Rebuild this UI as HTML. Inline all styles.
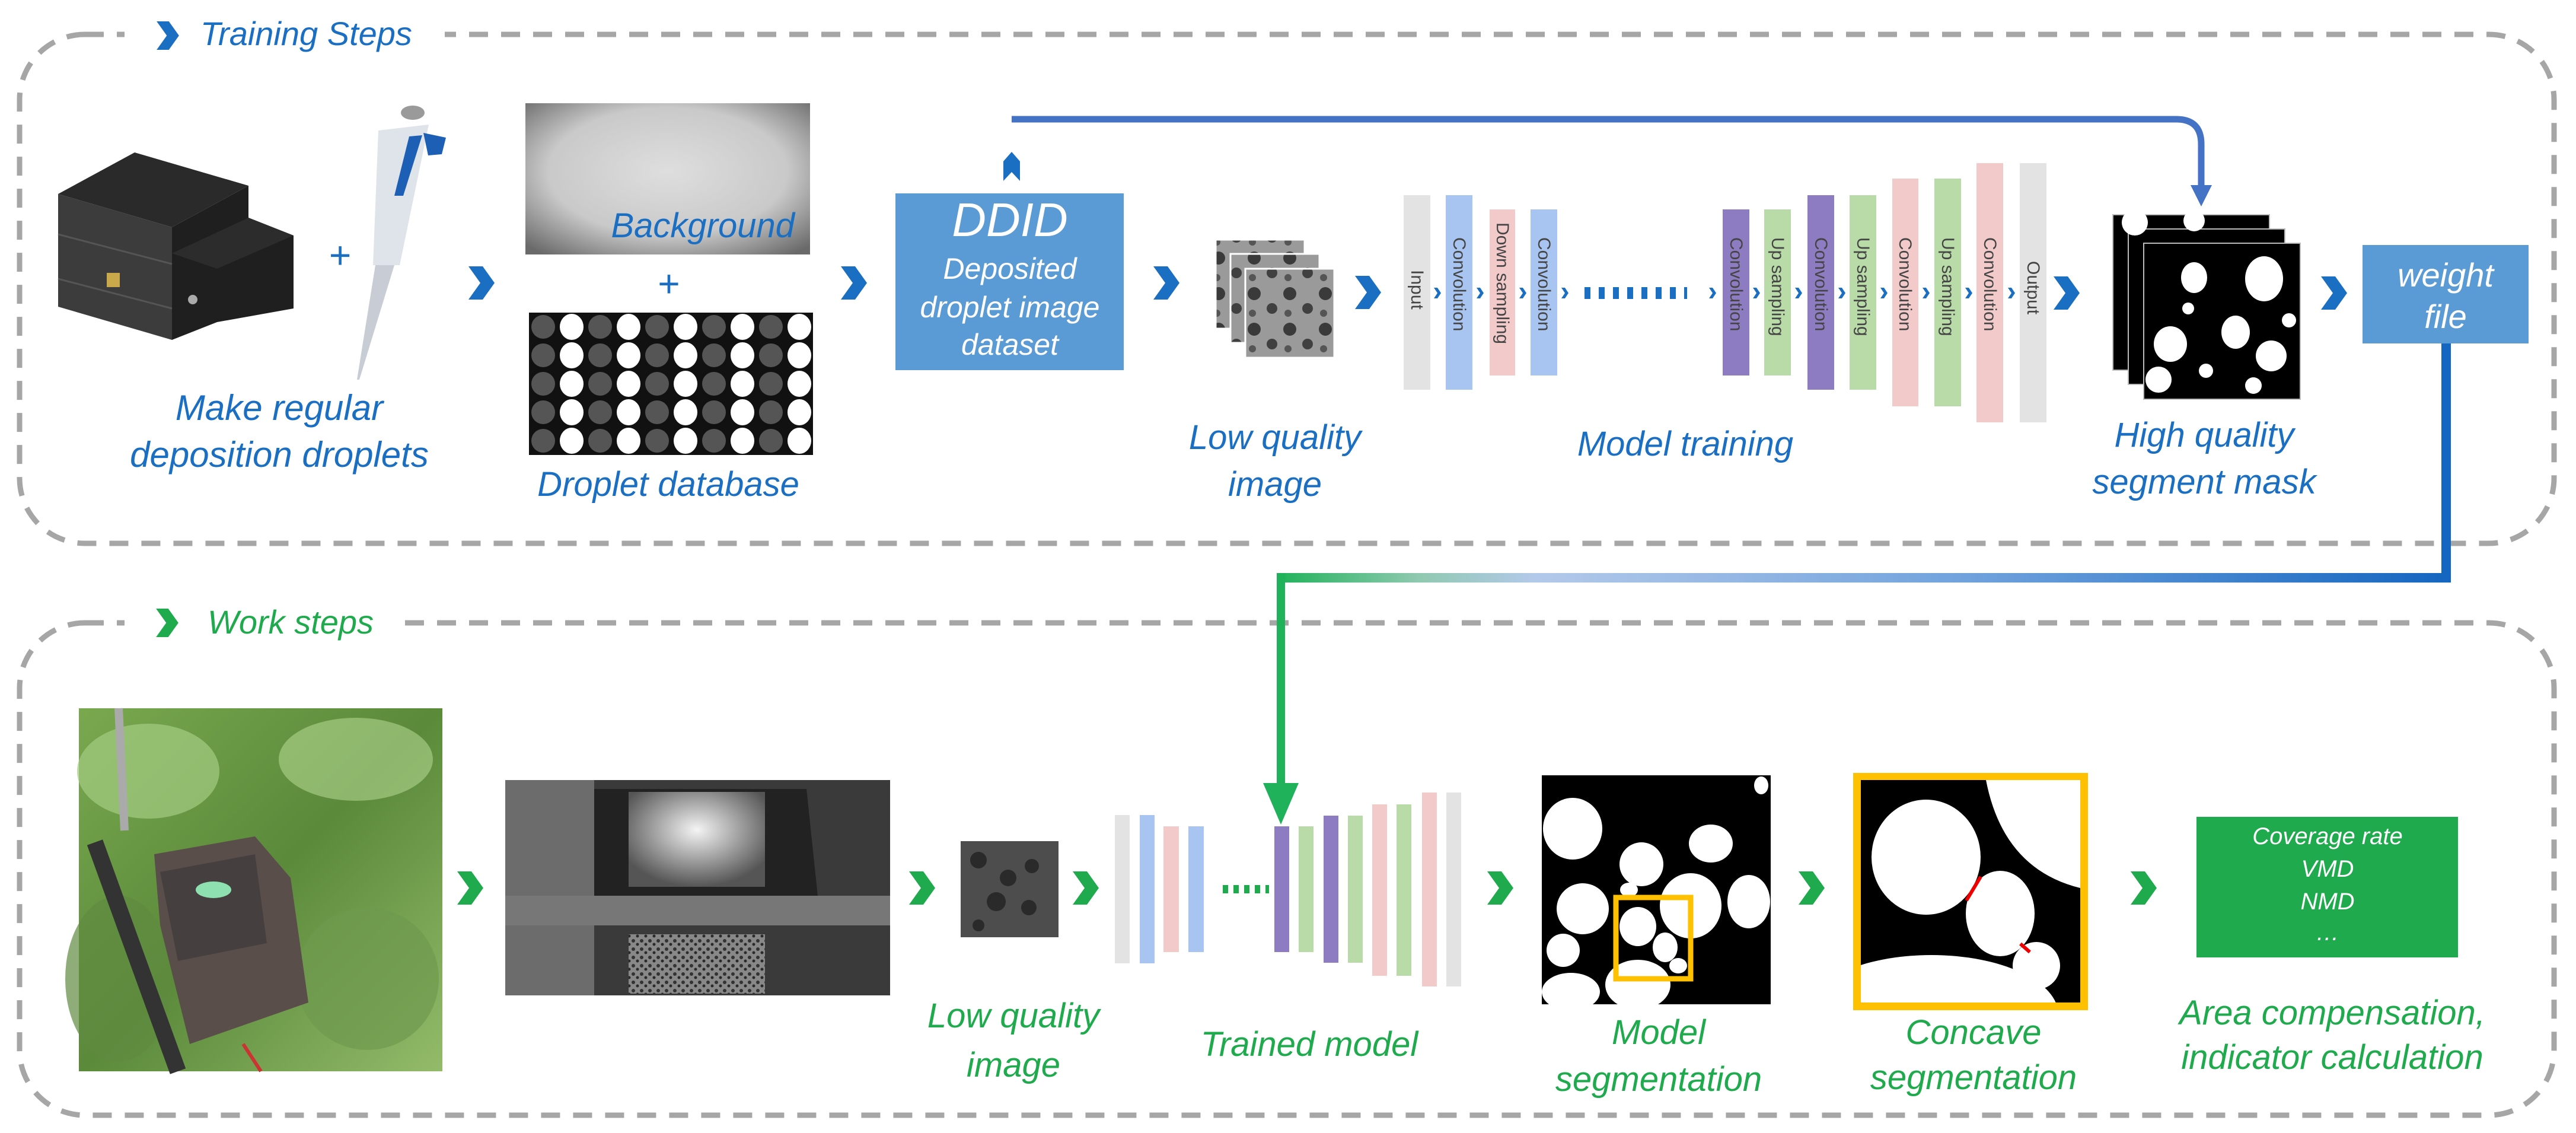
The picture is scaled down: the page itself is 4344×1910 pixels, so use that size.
<!DOCTYPE html>
<html><head><meta charset="utf-8"><style>
html,body{margin:0;padding:0;background:#fff;}
svg{display:block;}
.t{font-family:"Liberation Sans",sans-serif;font-style:italic;}
.b{fill:#1b6fc2;}
.g{fill:#1faa4d;}
.bar{font-family:"Liberation Sans",sans-serif;font-size:30px;fill:#444;}
</style></head><body>
<svg width="4344" height="1910" viewBox="0 0 4344 1910" xmlns="http://www.w3.org/2000/svg">
<defs>
<radialGradient id="bg" cx="0.5" cy="0.45" r="0.7"><stop offset="0" stop-color="#dedede"/><stop offset="0.6" stop-color="#c9c9c9"/><stop offset="1" stop-color="#6a6a6a"/></radialGradient>
<linearGradient id="hz" x1="2155" y1="0" x2="4125" y2="0" gradientUnits="userSpaceOnUse"><stop offset="0" stop-color="#20b25a"/><stop offset="0.12" stop-color="#8fc9b0"/><stop offset="0.22" stop-color="#b3c9ea"/><stop offset="0.6" stop-color="#6ea1dc"/><stop offset="1" stop-color="#1566c0"/></linearGradient>
<linearGradient id="leaf" x1="0" y1="0" x2="1" y2="1"><stop offset="0" stop-color="#79a84f"/><stop offset="0.5" stop-color="#5a8a3a"/><stop offset="1" stop-color="#93bb6a"/></linearGradient>
<radialGradient id="sq" cx="0.5" cy="0.4" r="0.6"><stop offset="0" stop-color="#f4f4f4"/><stop offset="1" stop-color="#555"/></radialGradient>
<symbol id="chev" viewBox="0 0 44 56"><path d="M0,0 L24,0 L44,28 L24,56 L0,56 L20,28 Z"/></symbol>
<symbol id="sch" viewBox="0 0 12 18"><path d="M0,0 L6,0 L12,9 L6,18 L0,18 L6,9 Z"/></symbol>
<pattern id="tex" width="14" height="14" patternUnits="userSpaceOnUse"><rect width="14" height="14" fill="#888"/><circle cx="4" cy="4" r="3" fill="#333"/><circle cx="11" cy="10" r="2.5" fill="#2a2a2a"/></pattern>
<pattern id="tex2" width="60" height="60" patternUnits="userSpaceOnUse"><rect width="60" height="60" fill="#9a9a9a"/><circle cx="15" cy="15" r="11" fill="#3a3a3a"/><circle cx="45" cy="40" r="9" fill="#404040"/><circle cx="12" cy="48" r="6" fill="#555"/></pattern>
</defs>

<rect x="33" y="58" width="4274" height="858" rx="110" fill="none" stroke="#a6a6a6" stroke-width="9" stroke-dasharray="32 22"/>
<rect x="210" y="30" width="540" height="60" fill="#fff"/>
<rect x="33" y="1050" width="4274" height="830" rx="110" fill="none" stroke="#a6a6a6" stroke-width="9" stroke-dasharray="32 22"/>
<rect x="210" y="1020" width="460" height="60" fill="#fff"/>

<use href="#chev" x="263" y="36" width="40" height="48" fill="#1b6fc2"/>
<text x="338" y="76" class="t b" font-size="56">Training Steps</text>
<use href="#chev" x="262" y="1026" width="40" height="48" fill="#1faa4d"/>
<text x="350" y="1068" class="t g" font-size="56">Work steps</text>

<polygon points="98,327 290,383 290,573 98,517" fill="#3c3c3c"/>
<polygon points="98,327 227,257 419,313 290,383" fill="#2a2a2a"/>
<polygon points="290,383 419,313 419,367 495,397 495,520 366,543 290,573" fill="#1f1f1f"/>
<polygon points="290,427 419,367 495,397 366,453" fill="#2c2c2c"/>
<line x1="98" y1="395" x2="290" y2="445" stroke="#555" stroke-width="3"/>
<line x1="98" y1="470" x2="290" y2="520" stroke="#555" stroke-width="3"/>
<rect x="180" y="460" width="22" height="24" fill="#c9a94a"/>
<circle cx="325" cy="505" r="8" fill="#aaa"/>
<text x="554" y="452" class="t b" font-size="64">+</text>
<polygon points="638,220 723,210 674,447 629,447" fill="#dfe3ea"/>
<polygon points="690,230 712,228 680,330 665,330" fill="#1d5fb5"/>
<polygon points="714,224 752,232 745,260 722,262" fill="#1d5fb5"/>
<polygon points="665,447 633,447 602,640 606,640" fill="#c8ccd4"/>
<ellipse cx="696" cy="190" rx="20" ry="12" fill="#9a9a9a"/>
<text x="471" y="708" class="t b" font-size="60" text-anchor="middle">Make regular</text>
<text x="471" y="787" class="t b" font-size="60" text-anchor="middle">deposition droplets</text>

<use href="#chev" x="790" y="449" width="44" height="56" fill="#1b6fc2"/>

<rect x="886" y="174" width="480" height="255" fill="url(#bg)"/>
<text x="1340" y="400" class="t b" font-size="58" text-anchor="end">Background</text>
<text x="1127" y="500" class="t b" font-size="64" text-anchor="middle">+</text>
<rect x="892" y="527" width="479" height="240" fill="#111"/>
<g>
<g fill="#555"><circle cx="916" cy="551" r="20"/><circle cx="1012" cy="551" r="20"/><circle cx="1108" cy="551" r="20"/><circle cx="1204" cy="551" r="20"/><circle cx="1300" cy="551" r="20"/>
<circle cx="916" cy="599" r="20"/><circle cx="1012" cy="599" r="20"/><circle cx="1108" cy="599" r="20"/><circle cx="1204" cy="599" r="20"/><circle cx="1300" cy="599" r="20"/>
<circle cx="916" cy="647" r="20"/><circle cx="1012" cy="647" r="20"/><circle cx="1108" cy="647" r="20"/><circle cx="1204" cy="647" r="20"/><circle cx="1300" cy="647" r="20"/>
<circle cx="916" cy="695" r="20"/><circle cx="1012" cy="695" r="20"/><circle cx="1108" cy="695" r="20"/><circle cx="1204" cy="695" r="20"/><circle cx="1300" cy="695" r="20"/>
<circle cx="916" cy="743" r="20"/><circle cx="1012" cy="743" r="20"/><circle cx="1108" cy="743" r="20"/><circle cx="1204" cy="743" r="20"/><circle cx="1300" cy="743" r="20"/></g>
<g fill="#fff"><ellipse cx="964" cy="551" rx="20" ry="22"/><ellipse cx="1060" cy="551" rx="20" ry="22"/><ellipse cx="1156" cy="551" rx="20" ry="22"/><ellipse cx="1252" cy="551" rx="20" ry="22"/><ellipse cx="1348" cy="551" rx="20" ry="22"/>
<ellipse cx="964" cy="599" rx="20" ry="22"/><ellipse cx="1060" cy="599" rx="20" ry="22"/><ellipse cx="1156" cy="599" rx="20" ry="22"/><ellipse cx="1252" cy="599" rx="20" ry="22"/><ellipse cx="1348" cy="599" rx="20" ry="22"/>
<ellipse cx="964" cy="647" rx="20" ry="22"/><ellipse cx="1060" cy="647" rx="20" ry="22"/><ellipse cx="1156" cy="647" rx="20" ry="22"/><ellipse cx="1252" cy="647" rx="20" ry="22"/><ellipse cx="1348" cy="647" rx="20" ry="22"/>
<ellipse cx="964" cy="695" rx="20" ry="22"/><ellipse cx="1060" cy="695" rx="20" ry="22"/><ellipse cx="1156" cy="695" rx="20" ry="22"/><ellipse cx="1252" cy="695" rx="20" ry="22"/><ellipse cx="1348" cy="695" rx="20" ry="22"/>
<ellipse cx="964" cy="743" rx="20" ry="22"/><ellipse cx="1060" cy="743" rx="20" ry="22"/><ellipse cx="1156" cy="743" rx="20" ry="22"/><ellipse cx="1252" cy="743" rx="20" ry="22"/><ellipse cx="1348" cy="743" rx="20" ry="22"/></g>
</g>
<text x="1127" y="836" class="t b" font-size="58" text-anchor="middle">Droplet database</text>

<use href="#chev" x="1418" y="449" width="44" height="56" fill="#1b6fc2"/>

<rect x="1510" y="326" width="385" height="298" fill="#5b9bd5"/>
<text x="1703" y="398" class="t" font-size="80" fill="#fff" text-anchor="middle">DDID</text>
<text x="1703" y="470" class="t" font-size="50" fill="#fff" text-anchor="middle">Deposited</text>
<text x="1703" y="535" class="t" font-size="50" fill="#fff" text-anchor="middle">droplet image</text>
<text x="1703" y="598" class="t" font-size="50" fill="#fff" text-anchor="middle">dataset</text>
<path d="M1692,305 L1692,272 L1706,256 L1720,272 L1720,305 L1706,290 Z" fill="#1b6fc2"/>
<path d="M1706,201 L3670,201 Q3712,201 3712,243 L3712,320" fill="none" stroke="#4472c4" stroke-width="11"/>
<polygon points="3694,312 3730,312 3712,348" fill="#4472c4"/>

<use href="#chev" x="1945" y="449" width="44" height="56" fill="#1b6fc2"/>
<rect x="2050" y="404" width="150" height="150" fill="url(#tex2)" stroke="#fff" stroke-width="3"/>
<rect x="2075" y="428" width="150" height="150" fill="url(#tex2)" stroke="#fff" stroke-width="3"/>
<rect x="2100" y="453" width="150" height="150" fill="url(#tex2)" stroke="#fff" stroke-width="3"/>
<text x="2150" y="757" class="t b" font-size="58" text-anchor="middle">Low quality</text>
<text x="2150" y="836" class="t b" font-size="58" text-anchor="middle">image</text>

<use href="#chev" x="2285" y="465" width="44" height="56" fill="#1b6fc2"/>

<rect x="2367" y="329" width="45" height="328" fill="#e3e3e3"/>
<rect x="2438" y="329" width="45" height="328" fill="#a8c4f0"/>
<rect x="2512" y="353" width="43" height="280" fill="#f2caca"/>
<rect x="2581" y="353" width="45" height="280" fill="#a8c4f0"/>
<rect x="2905" y="353" width="45" height="280" fill="#8e7cc3"/>
<rect x="2975" y="353" width="45" height="280" fill="#b8dba8"/>
<rect x="3048" y="329" width="45" height="328" fill="#8e7cc3"/>
<rect x="3119" y="329" width="45" height="328" fill="#b8dba8"/>
<rect x="3191" y="301" width="44" height="384" fill="#f2caca"/>
<rect x="3262" y="301" width="45" height="384" fill="#b8dba8"/>
<rect x="3333" y="275" width="45" height="437" fill="#f2caca"/>
<rect x="3406" y="275" width="45" height="437" fill="#e3e3e3"/>
<g class="bar">
<text transform="translate(2380,455) rotate(90)">Input</text>
<text transform="translate(2451,400) rotate(90)">Convolution</text>
<text transform="translate(2524,375) rotate(90)">Down sampling</text>
<text transform="translate(2594,400) rotate(90)">Convolution</text>
<text transform="translate(2918,400) rotate(90)">Convolution</text>
<text transform="translate(2988,400) rotate(90)">Up sampling</text>
<text transform="translate(3061,400) rotate(90)">Convolution</text>
<text transform="translate(3132,400) rotate(90)">Up sampling</text>
<text transform="translate(3203,400) rotate(90)">Convolution</text>
<text transform="translate(3275,400) rotate(90)">Up sampling</text>
<text transform="translate(3346,400) rotate(90)">Convolution</text>
<text transform="translate(3419,440) rotate(90)">Output</text>
</g>
<g fill="#1b6fc2">
<use href="#sch" x="2418" y="485" width="12" height="18"/>
<use href="#sch" x="2490" y="485" width="12" height="18"/>
<use href="#sch" x="2562" y="485" width="12" height="18"/>
<use href="#sch" x="2633" y="485" width="12" height="18"/>
<use href="#sch" x="2882" y="485" width="12" height="18"/>
<use href="#sch" x="2956" y="485" width="12" height="18"/>
<use href="#sch" x="3027" y="485" width="12" height="18"/>
<use href="#sch" x="3100" y="485" width="12" height="18"/>
<use href="#sch" x="3171" y="485" width="12" height="18"/>
<use href="#sch" x="3242" y="485" width="12" height="18"/>
<use href="#sch" x="3314" y="485" width="12" height="18"/>
<use href="#sch" x="3386" y="485" width="12" height="18"/>
</g>
<line x1="2672" y1="494" x2="2845" y2="494" stroke="#1b6fc2" stroke-width="20" stroke-dasharray="10 14"/>
<text x="2842" y="768" class="t b" font-size="58" text-anchor="middle">Model training</text>

<use href="#chev" x="3463" y="466" width="44" height="56" fill="#1b6fc2"/>

<g>
<rect x="3563" y="362" width="264" height="262" fill="#000" stroke="#bbb" stroke-width="2"/>
<rect x="3589" y="386" width="264" height="262" fill="#000" stroke="#bbb" stroke-width="2"/>
<rect x="3615" y="410" width="264" height="263" fill="#000" stroke="#bbb" stroke-width="2"/>
<g fill="#fff">
<circle cx="3600" cy="375" r="22"/><circle cx="3700" cy="372" r="18"/>
<ellipse cx="3700" cy="468" rx="22" ry="26"/><ellipse cx="3818" cy="470" rx="32" ry="38"/>
<ellipse cx="3660" cy="580" rx="28" ry="30"/><ellipse cx="3770" cy="560" rx="24" ry="28"/>
<circle cx="3830" cy="600" r="26"/><circle cx="3640" cy="640" r="22"/><circle cx="3720" cy="625" r="12"/>
<circle cx="3860" cy="540" r="12"/><circle cx="3690" cy="520" r="10"/><circle cx="3800" cy="650" r="14"/>
</g>
</g>
<text x="3717" y="753" class="t b" font-size="58" text-anchor="middle">High quality</text>
<text x="3717" y="832" class="t b" font-size="58" text-anchor="middle">segment mask</text>

<use href="#chev" x="3914" y="466" width="44" height="56" fill="#1b6fc2"/>
<rect x="3984" y="413" width="280" height="166" fill="#5b9bd5"/>
<text x="4124" y="483" class="t" font-size="56" fill="#fff" text-anchor="middle">weight</text>
<text x="4124" y="553" class="t" font-size="56" fill="#fff" text-anchor="middle">file</text>

<line x1="4125" y1="579" x2="4125" y2="982" stroke="#1566c0" stroke-width="16"/>
<line x1="2155" y1="974" x2="4133" y2="974" stroke="url(#hz)" stroke-width="16"/>
<line x1="2160" y1="966" x2="2160" y2="1330" stroke="#20b25a" stroke-width="14"/>
<polygon points="2130,1320 2190,1320 2160,1390" fill="#20b25a"/>

<rect x="133" y="1194" width="613" height="612" fill="url(#leaf)"/>
<ellipse cx="250" cy="1300" rx="120" ry="80" fill="#a4cc82" opacity="0.7"/>
<ellipse cx="600" cy="1280" rx="130" ry="70" fill="#b0d690" opacity="0.6"/>
<ellipse cx="620" cy="1650" rx="120" ry="120" fill="#6f9a4f" opacity="0.7"/>
<ellipse cx="200" cy="1650" rx="90" ry="140" fill="#5f8a40" opacity="0.7"/>
<line x1="200" y1="1194" x2="210" y2="1400" stroke="#aaa" stroke-width="14"/>
<line x1="160" y1="1420" x2="300" y2="1806" stroke="#333" stroke-width="28"/>
<polygon points="260,1440 430,1410 490,1480 520,1690 320,1760 270,1560" fill="#5a4e4a"/>
<polygon points="270,1470 430,1440 450,1590 300,1620" fill="#45403f"/>
<ellipse cx="360" cy="1500" rx="30" ry="14" fill="#8fe0b0"/>
<line x1="410" y1="1760" x2="440" y2="1806" stroke="#c33" stroke-width="6"/>

<use href="#chev" x="771" y="1469" width="44" height="56" fill="#1faa4d"/>
<rect x="852" y="1315" width="649" height="363" fill="#3a3a3a"/>
<rect x="852" y="1315" width="150" height="363" fill="#6c6c6c"/>
<polygon points="1002,1330 1360,1330 1380,1520 1002,1520" fill="#222"/>
<rect x="1060" y="1335" width="230" height="160" fill="url(#sq)"/>
<rect x="852" y="1510" width="649" height="50" fill="#777"/>
<rect x="1060" y="1575" width="230" height="100" fill="url(#tex)"/>

<use href="#chev" x="1533" y="1469" width="44" height="56" fill="#1faa4d"/>
<rect x="1620" y="1418" width="165" height="162" fill="#4d4d4d"/>
<g fill="#2a2a2a"><circle cx="1650" cy="1450" r="14"/><circle cx="1700" cy="1480" r="14"/><circle cx="1740" cy="1460" r="12"/><circle cx="1680" cy="1520" r="16"/><circle cx="1735" cy="1530" r="13"/><circle cx="1650" cy="1560" r="10"/></g>
<text x="1709" y="1732" class="t g" font-size="58" text-anchor="middle">Low quality</text>
<text x="1709" y="1815" class="t g" font-size="58" text-anchor="middle">image</text>

<use href="#chev" x="1809" y="1469" width="44" height="56" fill="#1faa4d"/>
<rect x="1880" y="1374" width="25" height="250" fill="#e3e3e3"/>
<rect x="1922" y="1374" width="25" height="250" fill="#a8c4f0"/>
<rect x="1962" y="1393" width="26" height="212" fill="#f2caca"/>
<rect x="2004" y="1393" width="26" height="212" fill="#a8c4f0"/>
<rect x="2149" y="1393" width="25" height="212" fill="#8e7cc3"/>
<rect x="2190" y="1393" width="25" height="212" fill="#b8dba8"/>
<rect x="2232" y="1375" width="25" height="248" fill="#8e7cc3"/>
<rect x="2273" y="1375" width="25" height="248" fill="#b8dba8"/>
<rect x="2314" y="1356" width="25" height="289" fill="#f2caca"/>
<rect x="2355" y="1356" width="25" height="289" fill="#b8dba8"/>
<rect x="2398" y="1336" width="25" height="327" fill="#f2caca"/>
<rect x="2439" y="1336" width="25" height="327" fill="#e3e3e3"/>
<line x1="2062" y1="1499" x2="2140" y2="1499" stroke="#1faa4d" stroke-width="14" stroke-dasharray="9 9"/>
<text x="2208" y="1780" class="t g" font-size="58" text-anchor="middle">Trained model</text>

<use href="#chev" x="2508" y="1469" width="44" height="56" fill="#1faa4d"/>
<svg x="2600" y="1307" width="386" height="386" viewBox="0 0 386 386">
<rect width="386" height="386" fill="#000"/>
<g fill="#fff">
<ellipse cx="52" cy="90" rx="50" ry="52"/><ellipse cx="168" cy="150" rx="37" ry="37"/><ellipse cx="285" cy="115" rx="37" ry="32"/>
<ellipse cx="69" cy="225" rx="44" ry="43"/><ellipse cx="251" cy="220" rx="52" ry="55"/><ellipse cx="349" cy="213" rx="36" ry="45"/>
<ellipse cx="162" cy="255" rx="31" ry="33"/><ellipse cx="208" cy="290" rx="21" ry="25"/><ellipse cx="36" cy="295" rx="28" ry="28"/>
<ellipse cx="230" cy="321" rx="15" ry="13"/><ellipse cx="147" cy="193" rx="15" ry="12"/><ellipse cx="162" cy="353" rx="55" ry="42"/>
<ellipse cx="49" cy="365" rx="49" ry="32"/><ellipse cx="370" cy="17" rx="12" ry="15"/>
</g>
<rect x="125" y="206" width="126" height="137" fill="none" stroke="#ffc000" stroke-width="9"/>
</svg>
<text x="2797" y="1760" class="t g" font-size="58" text-anchor="middle">Model</text>
<text x="2797" y="1839" class="t g" font-size="58" text-anchor="middle">segmentation</text>

<use href="#chev" x="3033" y="1469" width="44" height="56" fill="#1faa4d"/>
<rect x="3125" y="1303" width="396" height="400" fill="#ffc000"/>
<svg x="3138" y="1315" width="370" height="375" viewBox="0 0 370 375">
<rect width="370" height="375" fill="#000"/>
<g fill="#fff">
<ellipse cx="110" cy="130" rx="92" ry="97"/><ellipse cx="235" cy="225" rx="58" ry="72"/><ellipse cx="296" cy="313" rx="40" ry="40"/>
<ellipse cx="119" cy="395" rx="214" ry="100"/><path d="M211,0 Q240,150 370,182 L370,0 Z"/>
</g>
<line x1="202" y1="163" x2="178" y2="203" stroke="#e00" stroke-width="6"/>
<line x1="269" y1="276" x2="285" y2="290" stroke="#e00" stroke-width="6"/>
</svg>
<text x="3328" y="1760" class="t g" font-size="58" text-anchor="middle">Concave</text>
<text x="3328" y="1836" class="t g" font-size="58" text-anchor="middle">segmentation</text>

<use href="#chev" x="3593" y="1469" width="44" height="56" fill="#1faa4d"/>
<rect x="3704" y="1377" width="441" height="237" fill="#1faa4d"/>
<g class="t" font-size="40" fill="#fff" text-anchor="middle">
<text x="3925" y="1423">Coverage rate</text>
<text x="3925" y="1478">VMD</text>
<text x="3925" y="1533">NMD</text>
<text x="3925" y="1585">…</text>
</g>
<text x="3933" y="1727" class="t g" font-size="58" text-anchor="middle">Area compensation,</text>
<text x="3933" y="1802" class="t g" font-size="58" text-anchor="middle">indicator calculation</text>
</svg>
</body></html>
